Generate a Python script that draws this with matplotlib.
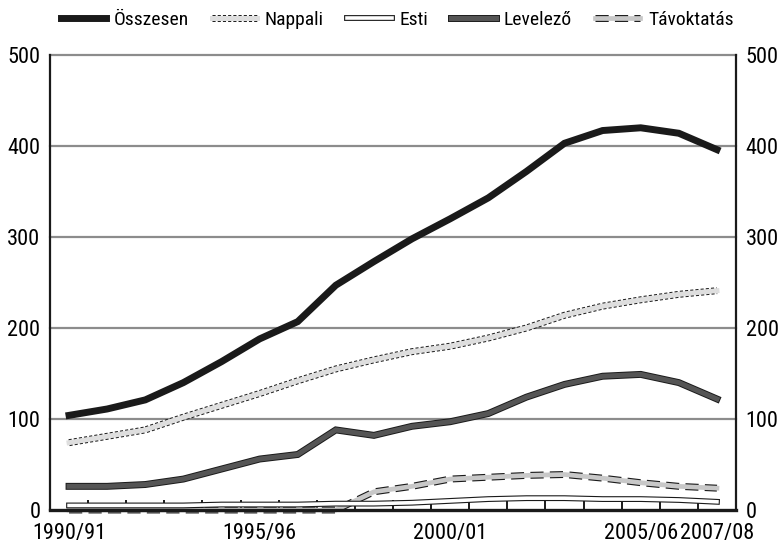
import matplotlib
matplotlib.use("Agg")
import matplotlib.pyplot as plt
from matplotlib import font_manager

# pick a condensed face if one is installed
fonts = font_manager.fontManager.ttflist
font_kw = {'family': 'DejaVu Sans', 'stretch': 'normal'}
size = 12
for name in ['Liberation Sans Narrow', 'Roboto Condensed', 'Open Sans Condensed',
             'Noto Sans Condensed', 'DejaVu Sans Condensed']:
    if any(f.name == name for f in fonts):
        font_kw = {'family': name, 'stretch': 'normal'}
        size = 16
        break
else:
    cond = [f for f in fonts if str(f.stretch) in ('condensed', 'semi-condensed', '75', '87')
            and f.style == 'normal']
    if cond:
        font_kw = {'family': cond[0].name, 'stretch': cond[0].stretch}
        size = 16

plt.rcParams['font.family'] = [font_kw['family'], 'DejaVu Sans']
plt.rcParams['font.stretch'] = font_kw['stretch']

# school years 1990/91 ... 2007/08
years = ['1990/91', '1991/92', '1992/93', '1993/94', '1994/95', '1995/96',
         '1996/97', '1997/98', '1998/99', '1999/00', '2000/01', '2001/02',
         '2002/03', '2003/04', '2004/05', '2005/06', '2006/07', '2007/08']
shown_labels = ['1990/91', '1995/96', '2000/01', '2005/06', '2007/08']

osszesen = [104, 111, 121, 140, 163, 188, 207, 247, 273, 298, 320, 343, 372, 403, 417, 420, 414, 396]
nappali = [74, 81, 88, 102, 115, 128, 142, 155, 165, 174, 180, 189, 200, 214, 224, 231, 237, 241]
esti = [5, 5, 5, 5, 6, 6, 6, 7, 7, 8, 10, 12, 13, 13, 12, 12, 11, 9]
levelezo = [26, 26, 28, 34, 45, 56, 61, 88, 82, 92, 97, 106, 124, 138, 147, 149, 140, 122]
tavoktatas = [0, 0, 0, 0, 0, 0, 0, 0, 20, 26, 34, 36, 38, 39, 35, 30, 26, 24]

fig = plt.figure(figsize=(7.79, 5.45), dpi=100)
ax = fig.add_axes([50 / 779, 1 - 510 / 545, 686 / 779, 455 / 545])

x = list(range(len(years)))

# gridlines
for v in [100, 200, 300, 400, 500]:
    ax.axhline(v, color='#8c8c8c', lw=1.6, zorder=1, clip_on=False)

# each series: outline line + inner fill line
styles = [
    # (data, outline width, outline dash, inner width, inner colour)
    (tavoktatas, 5.0, (0, (1.9, 0.9)), 3.4, '#c8c8c8'),
    (esti, 4.2, '-', 2.6, 'white'),
    (levelezo, 5.0, '-', 3.6, '#555555'),
    (nappali, 5.0, (0, (0.45, 0.3)), 3.6, '#dedede'),
]
handles = []
for data, ow, ls, iw, col in styles:
    l1, = ax.plot(x, data, color='#1a1a1a', lw=ow, ls=ls, zorder=3, clip_on=False,
                  solid_joinstyle='miter', dash_capstyle='butt')
    l2, = ax.plot(x, data, color=col, lw=iw, zorder=3, clip_on=False,
                  solid_joinstyle='miter')
    handles.append((l1, l2))

tot, = ax.plot(x, osszesen, color='#1a1a1a', lw=5.0, zorder=4, solid_joinstyle='miter')

ax.set_xlim(-0.5, len(years) - 0.5)
ax.set_ylim(0, 500)
ax.set_yticks([0, 100, 200, 300, 400, 500])
ax.set_xticks([years.index(s) for s in shown_labels])
ax.set_xticklabels(shown_labels)
ax.set_xticks([i + 0.5 for i in range(len(years) - 1)], minor=True)

ax.tick_params(axis='y', length=0, labelsize=size, pad=7, labelright=True)
ax.tick_params(axis='x', which='major', length=0, labelsize=size, pad=9)
ax.tick_params(axis='x', which='minor', direction='in', length=7, width=1.4, color='#1a1a1a')

ax.spines['top'].set_visible(False)
for s in ['left', 'right']:
    ax.spines[s].set_linewidth(1.6)
    ax.spines[s].set_color('#1a1a1a')
ax.spines['bottom'].set_linewidth(2.4)
ax.spines['bottom'].set_color('#1a1a1a')
ax.spines['bottom'].set_zorder(5)

leg_handles = [tot, handles[3], handles[1], handles[2], handles[0]]
leg_labels = ['Összesen', 'Nappali', 'Esti', 'Levelező', 'Távoktatás']
fig.legend(leg_handles, leg_labels, loc='upper center', bbox_to_anchor=(0.51, 1.012),
           ncol=5, frameon=False, fontsize=size - 2, handlelength=2.3, columnspacing=1.2,
           handletextpad=0.4)

fig.savefig('out.png', dpi=100)
